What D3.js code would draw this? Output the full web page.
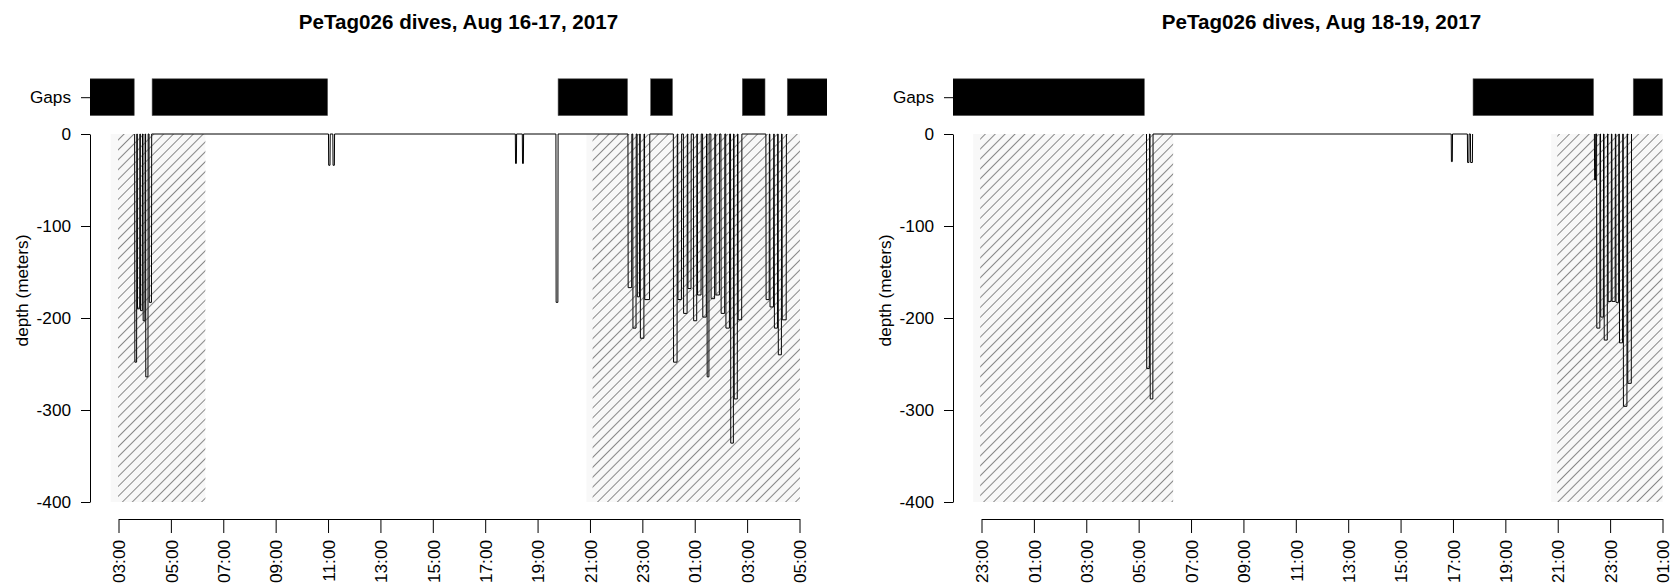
<!DOCTYPE html>
<html lang="en">
<head>
<meta charset="utf-8">
<script src="https://cdn.jsdelivr.net/npm/d3@7"></script>
<style>
  body { margin: 0; background: #fff; }
  svg text { font-family: "Liberation Sans", Arial, sans-serif; fill: #000; }
</style>
<title>PeTag026 dives</title>
</head>
<body>
<script>
var W = 1674, H = 587;

// ---- data ----
var yTicks = [0, -100, -200, -300, -400];
var gapLabel = "Gaps";
var gapLevel = 40;        // y value of the "Gaps" row
var gapBand = [20, 60];   // vertical extent of the gap bars
var nightDepth = [0, -400];

// left panel, Aug 16-17
var leftTitle = "PeTag026 dives, Aug 16-17, 2017";
var leftAxis = ["2017-08-16 03:00", "2017-08-17 05:00"];
var leftDiveStart = [
  "2017-08-16 03:37", "2017-08-16 03:43", "2017-08-16 03:50", "2017-08-16 03:56", "2017-08-16 04:02", "2017-08-16 04:10",
  "2017-08-16 11:01", "2017-08-16 11:11", "2017-08-16 18:09", "2017-08-16 18:25", "2017-08-16 19:42",
  "2017-08-16 22:27", "2017-08-16 22:38", "2017-08-16 22:48", "2017-08-16 22:55", "2017-08-16 23:05",
  "2017-08-17 00:11", "2017-08-17 00:21", "2017-08-17 00:34", "2017-08-17 00:44", "2017-08-17 00:57",
  "2017-08-17 01:06", "2017-08-17 01:18", "2017-08-17 01:28", "2017-08-17 01:37", "2017-08-17 01:48",
  "2017-08-17 02:00", "2017-08-17 02:11", "2017-08-17 02:22", "2017-08-17 02:30", "2017-08-17 02:39",
  "2017-08-17 03:43", "2017-08-17 03:52", "2017-08-17 04:02", "2017-08-17 04:11", "2017-08-17 04:20"];
var leftDiveMin = [5, 6, 5, 5, 6, 6,
  4, 4, 3, 3, 5,
  9, 8, 6, 9, 12,
  9, 9, 9, 8, 8,
  9, 9, 5, 9, 9,
  9, 9, 7, 8, 9,
  8, 9, 8, 8, 10];
var leftDiveDepth = [248, 190, 192, 203, 264, 183,
  34, 34, 32, 32, 183,
  167, 211, 177, 222, 180,
  248, 180, 195, 168, 203,
  175, 199, 264, 179, 175,
  195, 211, 336, 288, 202,
  180, 188, 211, 240, 202];
var leftDiveSeg = leftDiveStart.map(function() { return 1; });
var leftGaps = [
  ["2017-08-16 00:00", "2017-08-16 03:36"], ["2017-08-16 04:17", "2017-08-16 10:59"],
  ["2017-08-16 19:47", "2017-08-16 22:26"], ["2017-08-16 23:19", "2017-08-17 00:09"],
  ["2017-08-17 02:49", "2017-08-17 03:41"], ["2017-08-17 04:32", "2017-08-17 08:00"]];
var leftShade = [["2017-08-16 02:42", "2017-08-16 06:19"], ["2017-08-16 20:52", "2017-08-17 05:01"]];
var leftHatch = [["2017-08-16 02:59", "2017-08-16 06:19"], ["2017-08-16 21:06", "2017-08-17 05:01"]];

// right panel, Aug 18-19
var rightTitle = "PeTag026 dives, Aug 18-19, 2017";
var rightAxis = ["2017-08-17 23:00", "2017-08-19 01:00"];
var rightDiveStart = [
  "2017-08-18 05:18", "2017-08-18 05:26", "2017-08-18 16:56", "2017-08-18 17:33", "2017-08-18 17:40",
  "2017-08-18 22:24", "2017-08-18 22:29", "2017-08-18 22:38", "2017-08-18 22:46", "2017-08-18 22:55",
  "2017-08-18 23:04", "2017-08-18 23:13", "2017-08-18 23:21", "2017-08-18 23:30", "2017-08-18 23:40"];
var rightDiveMin = [7, 7, 3, 4, 5,
  3, 8, 7, 8, 8,
  8, 7, 8, 9, 9];
var rightDiveDepth = [255, 288, 30, 31, 31,
  50, 211, 199, 224, 182,
  182, 183, 227, 296, 271];
var rightDiveSeg = [1, 1, 1, 1, 1, 2, 2, 2, 2, 2, 2, 2, 2, 2, 2];
var rightGaps = [
  ["2017-08-17 18:00", "2017-08-18 05:13"], ["2017-08-18 17:46", "2017-08-18 22:22"],
  ["2017-08-18 23:53", "2017-08-19 01:00"]];
var rightShade = [["2017-08-17 22:41", "2017-08-18 06:19"], ["2017-08-18 20:45", "2017-08-19 01:00"]];
var rightHatch = [["2017-08-17 22:57", "2017-08-18 06:19"], ["2017-08-18 20:59", "2017-08-19 01:00"]];

// ---- drawing ----
var parse = d3.utcParse("%Y-%m-%d %H:%M");
var fmt = d3.utcFormat("%H:%M");

var svg = d3.select("body").append("svg")
  .attr("width", W).attr("height", H)
  .attr("viewBox", "0 0 " + W + " " + H);

var defs = svg.append("defs");
defs.append("pattern")
  .attr("id", "hatch")
  .attr("patternUnits", "userSpaceOnUse")
  .attr("width", 7).attr("height", 7)
  .attr("patternTransform", "rotate(45)")
  .append("line")
    .attr("x1", 0).attr("y1", -1).attr("x2", 0).attr("y2", 8)
    .attr("stroke", "#1a1a1a").attr("stroke-width", 1);

var y = d3.scaleLinear().domain([0, -400]).range([134, 502]);

function divePoints(starts, mins, depths, segs) {
  var pts = [];
  starts.forEach(function(s, i) {
    var t0 = +parse(s), t1 = t0 + mins[i] * 60000, e = 30000;
    pts.push({t: t0, d: 0, seg: segs[i]});
    pts.push({t: t0 + e, d: -depths[i], seg: segs[i]});
    pts.push({t: t1 - e, d: -depths[i], seg: segs[i]});
    pts.push({t: t1, d: 0, seg: segs[i]});
  });
  return d3.groups(pts, function(p) { return p.seg; }).map(function(g) { return g[1]; });
}

function panel(id, left, right, title, axisEnds, starts, mins, depths, segs, gaps, shade, hatch) {
  var top = 62, bottom = 519;
  var x = d3.scaleUtc()
    .domain([parse(axisEnds[0]), parse(axisEnds[1])])
    .range([left + 28.5, right - 27.5]);

  var g = svg.append("g");
  g.append("clipPath").attr("id", "clip" + id)
    .append("rect").attr("x", left).attr("y", top)
    .attr("width", right - left).attr("height", bottom - top);

  var plot = g.append("g").attr("clip-path", "url(#clip" + id + ")");

  function band(cls, data, fill) {
    plot.selectAll("rect." + cls).data(data).enter().append("rect")
      .attr("class", cls)
      .attr("x", function(d) { return x(parse(d[0])); })
      .attr("width", function(d) { return x(parse(d[1])) - x(parse(d[0])); })
      .attr("y", y(nightDepth[0]))
      .attr("height", y(nightDepth[1]) - y(nightDepth[0]))
      .attr("fill", fill);
  }

  // night: faint grey first, dives, then hatching over them
  band("shade", shade, "#f8f8f8");

  var line = d3.line()
    .x(function(p) { return x(p.t); })
    .y(function(p) { return y(p.d); });
  plot.selectAll("path.dive").data(divePoints(starts, mins, depths, segs)).enter().append("path")
    .attr("class", "dive")
    .attr("d", line)
    .attr("fill", "none")
    .attr("stroke", "#000")
    .attr("stroke-width", 1);

  band("hatch", hatch, "url(#hatch)");

  // gaps row
  plot.selectAll("rect.gap").data(gaps).enter().append("rect")
    .attr("class", "gap")
    .attr("x", function(d) { return x(parse(d[0])); })
    .attr("width", function(d) { return x(parse(d[1])) - x(parse(d[0])); })
    .attr("y", y(gapBand[1]))
    .attr("height", y(gapBand[0]) - y(gapBand[1]))
    .attr("fill", "#000")
    .attr("stroke", "#555").attr("stroke-width", 0.6);

  // y axis
  var ya = g.append("g").attr("transform", "translate(" + left + ",0)")
    .call(d3.axisLeft(y).tickValues(yTicks).tickSize(9).tickSizeOuter(0).tickPadding(10)
      .tickFormat(d3.format("d")));
  ya.selectAll("text").style("font-size", "17.2px").text(function(d) { return d === 0 ? "0" : String(d); });

  // gaps tick
  var gy = d3.scaleOrdinal().domain([gapLabel]).range([y(gapLevel)]);
  var ga = g.append("g").attr("transform", "translate(" + left + ",0)")
    .call(d3.axisLeft(gy).tickSize(9).tickSizeOuter(0).tickPadding(10));
  ga.select(".domain").remove();
  ga.selectAll("text").style("font-size", "17.2px");

  // x axis
  var ticks = d3.utcHour.range(parse(axisEnds[0]), +parse(axisEnds[1]) + 1, 2);
  var xa = g.append("g").attr("transform", "translate(0," + bottom + ")")
    .call(d3.axisBottom(x).tickValues(ticks).tickSize(14).tickSizeOuter(0).tickFormat(fmt));
  xa.selectAll("text")
    .style("font-size", "17.2px")
    .attr("text-anchor", "end")
    .attr("transform", "rotate(-90)")
    .attr("x", -21).attr("y", 0).attr("dy", "0.36em");

  svg.selectAll(".domain, .tick line").attr("stroke", "#000");

  // y label
  g.append("text")
    .attr("transform", "translate(" + (left - 62) + "," + ((top + bottom) / 2) + ") rotate(-90)")
    .attr("text-anchor", "middle")
    .style("font-size", "17.2px")
    .text("depth (meters)");

  // title
  g.append("text")
    .attr("x", (left + right) / 2).attr("y", 29)
    .attr("text-anchor", "middle")
    .style("font-size", "20.6px").style("font-weight", "bold")
    .text(title);
}

panel("L", 90, 827, leftTitle, leftAxis, leftDiveStart, leftDiveMin, leftDiveDepth, leftDiveSeg, leftGaps, leftShade, leftHatch);
panel("R", 953, 1690, rightTitle, rightAxis, rightDiveStart, rightDiveMin, rightDiveDepth, rightDiveSeg, rightGaps, rightShade, rightHatch);
</script>
</body>
</html>
